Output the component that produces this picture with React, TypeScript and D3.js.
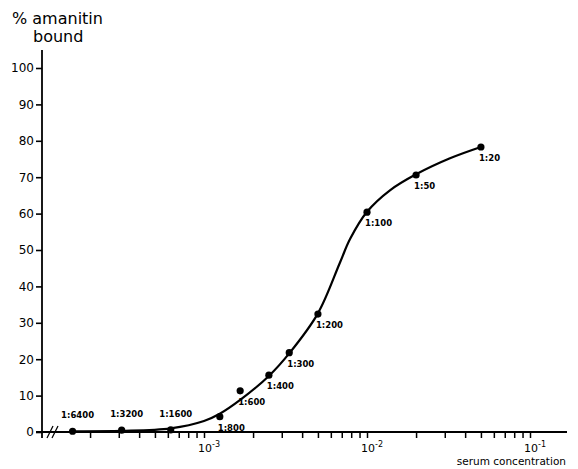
import React, { useEffect, useRef } from "react";
import * as d3 from "d3";

const dilutions = ["1:6400", "1:3200", "1:1600", "1:800", "1:600", "1:400", "1:300", "1:200", "1:100", "1:50", "1:20"];
const concentrations = [1 / 6400, 1 / 3200, 1 / 1600, 1 / 800, 1 / 600, 1 / 400, 1 / 300, 1 / 200, 1 / 100, 1 / 50, 1 / 20];
const bound = [0.2, 0.5, 0.6, 4.2, 11.3, 15.6, 21.8, 32.4, 60.4, 70.6, 78.3];
const labelAbove = [true, true, true, false, false, false, false, false, false, false, false];

const curveConc = [1.5e-4, 3.125e-4, 6.25e-4, 1e-3, 1.25e-3, 1.667e-3, 2.5e-3, 3.333e-3, 5e-3, 6.82e-3, 7.87e-3, 1e-2, 1.383e-2, 2e-2, 3.23e-2, 5e-2];
const curveBound = [0.2, 0.3, 1.0, 3.0, 5.0, 8.8, 15.4, 21.6, 32.6, 46.5, 53.0, 60.5, 66.4, 70.8, 75.2, 78.3];

const yTicks = [0, 10, 20, 30, 40, 50, 60, 70, 80, 90, 100];
const xMajor = [1e-3, 1e-2, 1e-1];
const xMajorExp = ["-3", "-2", "-1"];

export default function App() {
  const ref = useRef<SVGSVGElement>(null);
  useEffect(() => {
    const svg = d3.select(ref.current);
    svg.selectAll("*").remove();
    const font = "'DejaVu Sans', sans-serif";
    const x = d3.scaleLog().domain([1e-4, 1e-1]).range([41, 530]);
    const y = d3.scaleLinear().domain([0, 100]).range([432, 68]);

    // y axis
    const ya = svg.append("g").attr("transform", "translate(42,0)").call(
      d3.axisLeft(y).tickValues(yTicks).tickSize(6).tickPadding(2).tickFormat((d) => String(d))
    );
    ya.select(".domain").remove();
    ya.selectAll("line").attr("stroke", "#000").attr("stroke-width", 1.6);
    ya.selectAll("text").attr("font-family", font).attr("font-size", 12).attr("fill", "#000");
    svg.append("line").attr("x1", 42).attr("x2", 42).attr("y1", 50).attr("y2", 438).attr("stroke", "#000").attr("stroke-width", 1.8);

    // x axis
    const xTicks: number[] = [];
    for (let e = -4; e <= -2; e++) {
      for (let m = 1; m <= 9; m++) {
        const v = m * Math.pow(10, e);
        if (v > 1.5e-4) xTicks.push(v);
      }
    }
    xTicks.push(1e-1);
    const xa = svg.append("g").attr("transform", "translate(0,432)").call(
      d3.axisBottom(x).tickValues(xTicks).tickSize(6).tickFormat(() => "")
    );
    xa.select(".domain").remove();
    xa.selectAll("line").attr("stroke", "#000").attr("stroke-width", 1.5);
    svg.append("line").attr("x1", 36).attr("x2", 567).attr("y1", 432).attr("y2", 432).attr("stroke", "#000").attr("stroke-width", 1.8);

    // axis break
    [0, 5].forEach((dx) => {
      svg.append("line").attr("x1", 47 + dx).attr("y1", 438).attr("x2", 53 + dx).attr("y2", 426)
        .attr("stroke", "#000").attr("stroke-width", 1.3);
    });

    // major labels
    xMajor.forEach((v, i) => {
      const t = svg.append("text").attr("x", x(v) - 6).attr("y", 452).attr("font-family", font)
        .attr("font-size", 11).attr("fill", "#000");
      t.append("tspan").text("10");
      t.append("tspan").attr("dy", -5).attr("font-size", 8).text(xMajorExp[i]);
    });

    // curve
    const line = d3.line<number>()
      .x((_, i) => x(curveConc[i]))
      .y((d) => y(d))
      .curve(d3.curveCatmullRom.alpha(0.5));
    svg.append("path").attr("d", line(curveBound) || "").attr("fill", "none").attr("stroke", "#000").attr("stroke-width", 2.2);

    // points
    concentrations.forEach((c, i) => {
      svg.append("circle").attr("cx", x(c)).attr("cy", y(bound[i])).attr("r", 3.6).attr("fill", "#000");
      const lbl = svg.append("text").attr("font-family", font).attr("font-size", 8.5).attr("font-weight", "bold").attr("fill", "#000").text(dilutions[i]);
      if (labelAbove[i]) {
        lbl.attr("x", x(c) + 5).attr("y", y(bound[i]) - 13).attr("text-anchor", "middle");
      } else {
        lbl.attr("x", x(c) - 2).attr("y", y(bound[i]) + 14).attr("text-anchor", "start");
      }
    });

    // titles
    svg.append("text").attr("x", 12).attr("y", 24).attr("font-family", font).attr("font-size", 16).attr("fill", "#000").text("% amanitin");
    svg.append("text").attr("x", 33).attr("y", 42).attr("font-family", font).attr("font-size", 16).attr("fill", "#000").text("bound");
    svg.append("text").attr("x", 566).attr("y", 465).attr("text-anchor", "end").attr("font-family", font).attr("font-size", 10.5).attr("fill", "#000").text("serum concentration");
  }, []);
  return (
    <svg ref={ref} width={578} height={469} style={{ position: "absolute", left: 0, top: 0, background: "#fff" }} />
  );
}
